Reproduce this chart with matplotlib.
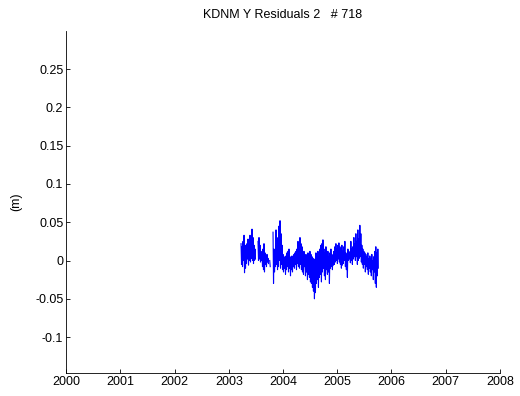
import numpy as np
import matplotlib
matplotlib.use("Agg")
import matplotlib.pyplot as plt

plt.rcParams['font.family'] = ['Liberation Sans', 'DejaVu Sans']

# residual series (m), sampled every ~3.4 days, NaN gaps between segments
step = 0.0092  # years
seg_starts = [2003.226, 2003.539, 2003.755, 2003.816]
seg_a = [0.022, -0.005, 0.018, -0.008, 0.025, 0.000, 0.033, -0.016, 0.020, -0.010,
         0.015, -0.004, 0.022, 0.002, 0.028, -0.006, 0.018, 0.000, 0.033, -0.002,
         0.024, 0.003, 0.041, 0.000, 0.030, -0.004, 0.020, 0.000, 0.015, 0.002]
seg_b = [0.025, 0.000, 0.030, 0.002, 0.020, -0.002, 0.012, 0.000, 0.008, -0.008,
         0.015, -0.012, 0.022, -0.015, 0.010, -0.005, 0.005, -0.008, 0.008, -0.002,
         0.003, -0.004]
seg_c = [0.000, -0.008]
seg_d = [0.037, -0.030, 0.015, -0.015, 0.010, -0.008, 0.040, -0.005, 0.022, -0.012,
         0.030, -0.008, 0.045, 0.000, 0.052, -0.010, 0.035, -0.005, 0.020, -0.012,
         0.008, -0.015, 0.005, -0.010, 0.002, -0.018, 0.006, -0.012, 0.010, -0.008,
         0.012, -0.015, 0.015, -0.010, 0.005, -0.020, 0.002, -0.012, 0.006, -0.015,
         0.004, -0.008, 0.008, -0.010, 0.010, -0.005, 0.012, -0.012, 0.015, -0.004,
         0.025, -0.008, 0.020, -0.010, 0.030, -0.005, 0.022, -0.012, 0.018, -0.015,
         0.010, -0.018, 0.012, -0.008, 0.005, -0.020, 0.008, -0.015, 0.006, -0.025,
         0.010, -0.018, 0.002, -0.022, 0.012, -0.028, 0.008, -0.030, 0.005, -0.035,
         0.003, -0.040, 0.000, -0.050, 0.002, -0.042, 0.010, -0.030, 0.008, -0.025,
         0.012, -0.035, 0.005, -0.022, 0.015, -0.018, 0.020, -0.028, 0.022, -0.015,
         0.027, -0.010, 0.015, -0.020, 0.010, -0.025, 0.018, -0.012, 0.008, -0.018,
         0.012, -0.015, 0.005, -0.030, 0.010, -0.010, 0.015, -0.008, 0.008, -0.012,
         0.006, -0.006, 0.012, -0.005, 0.018, -0.002, 0.022, 0.000, 0.015, -0.004,
         0.020, 0.002, 0.023, -0.002, 0.018, -0.005, 0.015, -0.010, 0.020, -0.006,
         0.012, -0.004, 0.018, 0.000, 0.025, -0.008, 0.010, -0.012, 0.008, -0.022,
         0.015, 0.000, 0.012, 0.002, 0.010, -0.003, 0.025, 0.000, 0.015, -0.005,
         0.018, 0.002, 0.030, 0.005, 0.022, 0.000, 0.035, 0.005, 0.025, -0.005,
         0.040, 0.000, 0.028, 0.003, 0.046, 0.005, 0.035, -0.002, 0.020, -0.005,
         0.015, -0.010, 0.012, -0.005, 0.010, -0.015, 0.008, -0.008, 0.005, -0.012,
         0.010, -0.018, 0.002, -0.010, 0.006, -0.015, 0.003, -0.020, 0.008, -0.012,
         0.000, -0.025, 0.005, -0.015, 0.012, -0.030, 0.018, -0.035, 0.010, -0.020,
         0.015, -0.010]

ytick_vals = [-0.1, -0.05, 0, 0.05, 0.1, 0.15, 0.2, 0.25]
ytick_labels = ['-0.1', '-0.05', '0', '0.05', '0.1', '0.15', '0.2', '0.25']
xtick_vals = list(range(2000, 2009))

t_all, r_all = [], []
for start, seg in zip(seg_starts, [seg_a, seg_b, seg_c, seg_d]):
    t_all.extend(start + step * np.arange(len(seg)))
    r_all.extend(seg)
    t_all.append(np.nan)
    r_all.append(np.nan)

fig = plt.figure(figsize=(5.2, 3.96), dpi=100)
ax = fig.add_axes([0.127, 0.058, 0.8345, 0.864])
ax.plot(t_all, r_all, color='#0000ff', linewidth=0.8)

ax.set_xlim(2000, 2008)
ax.set_ylim(-0.147, 0.3)
ax.set_xticks(xtick_vals)
ax.set_xticklabels([str(v) for v in xtick_vals])
ax.set_yticks(ytick_vals)
ax.set_yticklabels(ytick_labels)
ax.tick_params(direction='in', length=3, width=0.6, labelsize=9, pad=2)
for side in ('top', 'right'):
    ax.spines[side].set_visible(False)
for side in ('left', 'bottom'):
    ax.spines[side].set_linewidth(0.6)

ax.set_ylabel('(m)', fontsize=9, labelpad=9)
ax.set_title('KDNM Y Residuals 2   # 718', fontsize=9, pad=9)

fig.savefig('out.png', dpi=100)
